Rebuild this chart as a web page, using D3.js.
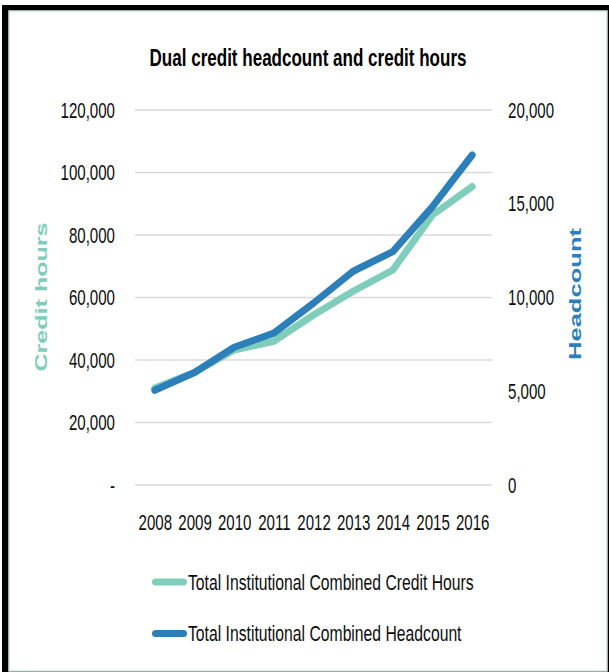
<!DOCTYPE html>
<html>
<head>
<meta charset="utf-8">
<script src="https://cdn.jsdelivr.net/npm/d3@7"></script>
<style>
  html, body { margin: 0; padding: 0; background: #fff; }
  svg { display: block; }
  text { font-family: "Liberation Sans", Arial, sans-serif; }
</style>
</head>
<body>
<svg id="chart" width="609" height="672"></svg>
<script>
// ---- data ----
const years = ["2008","2009","2010","2011","2012","2013","2014","2015","2016"];
const creditHours = [31000, 36000, 43200, 46000, 54400, 62000, 68800, 86400, 95500];
const headcount   = [5050, 6000, 7350, 8100, 9700, 11400, 12450, 14850, 17600];
const leftTicks  = [0, 20000, 40000, 60000, 80000, 100000, 120000];
const rightTicks = [0, 5000, 10000, 15000, 20000];
const seriesNames = ["Total Institutional Combined Credit Hours", "Total Institutional Combined Headcount"];
const titleText = "Dual credit headcount and credit hours";
const leftTitle = "Credit hours";
const rightTitle = "Headcount";

// ---- style ----
const GREEN = "#7fcdbb", BLUE = "#2c7fb8";
const SX = 0.685; // horizontal squeeze of the reference typography

const svg = d3.select("#chart");

// frame
svg.append("rect").attr("x", 2).attr("y", 5).attr("width", 607).attr("height", 667).attr("fill", "#000");
svg.append("rect").attr("x", 9).attr("y", 11).attr("width", 598).attr("height", 660)
  .attr("fill", "#fff").attr("stroke", "#cfe8e0").attr("stroke-width", 1.5);

const plot = {left: 135, right: 492, top: 110, bottom: 485};

const x = d3.scalePoint().domain(years).range([plot.left, plot.right]).padding(0.5);
const yL = d3.scaleLinear().domain([0, 120000]).range([plot.bottom, plot.top]);
const yR = d3.scaleLinear().domain([0, 20000]).range([plot.bottom, plot.top]);

// gridlines
svg.append("g").selectAll("line").data(leftTicks).join("line")
  .attr("x1", plot.left).attr("x2", plot.right)
  .attr("y1", d => yL(d)).attr("y2", d => yL(d))
  .attr("stroke", "#d9d9d9").attr("stroke-width", 1.5);

function squeeze(sel) {
  sel.selectAll("text").each(function() {
    const t = d3.select(this);
    const tx = +t.attr("x") || 0, ty = +t.attr("y") || 0;
    t.attr("x", 0).attr("y", 0)
     .attr("transform", `translate(${tx},${ty}) scale(${SX},1)`);
  });
}

function styleAxis(g) {
  g.select(".domain").remove();
  g.selectAll("line").remove();
  g.selectAll("text").attr("font-size", 22).attr("fill", "#0d0d0d")
    .attr("font-family", '"Liberation Sans", Arial, sans-serif');
  squeeze(g);
}

svg.append("g").attr("transform", `translate(${plot.left},0)`)
  .call(d3.axisLeft(yL).tickValues(leftTicks).tickSize(0).tickPadding(20)
    .tickFormat(d => d === 0 ? "-" : d3.format(",")(d)))
  .call(styleAxis);

svg.append("g").attr("transform", `translate(${plot.right},0)`)
  .call(d3.axisRight(yR).tickValues(rightTicks).tickSize(0).tickPadding(16)
    .tickFormat(d3.format(",")))
  .call(styleAxis);

svg.append("g").attr("transform", `translate(0,${plot.bottom})`)
  .call(d3.axisBottom(x).tickSize(0).tickPadding(29))
  .call(styleAxis);

// lines
const lineL = d3.line().x((d, i) => x(years[i])).y(d => yL(d));
const lineR = d3.line().x((d, i) => x(years[i])).y(d => yR(d));
svg.append("path").datum(creditHours).attr("d", lineL)
  .attr("fill", "none").attr("stroke", GREEN).attr("stroke-width", 7)
  .attr("stroke-linejoin", "round").attr("stroke-linecap", "round");
svg.append("path").datum(headcount).attr("d", lineR)
  .attr("fill", "none").attr("stroke", BLUE).attr("stroke-width", 7)
  .attr("stroke-linejoin", "round").attr("stroke-linecap", "round");

// title
svg.append("text").attr("transform", `translate(308,66) scale(0.71,1)`)
  .attr("text-anchor", "middle").attr("font-size", 24).attr("font-weight", "bold")
  .attr("fill", "#000").text(titleText);

// axis titles
svg.append("text").attr("transform", `translate(47,297) scale(0.75,1) rotate(-90)`)
  .attr("text-anchor", "middle").attr("font-size", 21).attr("font-weight", "bold")
  .attr("font-family", '"DejaVu Sans", Verdana, sans-serif')
  .attr("textLength", 149).attr("lengthAdjust", "spacingAndGlyphs")
  .attr("fill", GREEN).text(leftTitle);
svg.append("text").attr("transform", `translate(581,294) scale(0.75,1) rotate(-90)`)
  .attr("text-anchor", "middle").attr("font-size", 21).attr("font-weight", "bold")
  .attr("font-family", '"DejaVu Sans", Verdana, sans-serif')
  .attr("textLength", 132).attr("lengthAdjust", "spacingAndGlyphs")
  .attr("fill", BLUE).text(rightTitle);

// legend
const legendColors = [GREEN, BLUE];
const lg = svg.append("g").selectAll("g").data(seriesNames).join("g")
  .attr("transform", (d, i) => `translate(0,${582 + i * 51.5})`);
lg.append("line").attr("x1", 155.5).attr("x2", 183.5).attr("y1", 0).attr("y2", 0)
  .attr("stroke", (d, i) => legendColors[i]).attr("stroke-width", 7).attr("stroke-linecap", "round");
lg.append("text").attr("transform", `translate(188,7.5) scale(0.715,1)`)
  .attr("font-size", 22).attr("fill", "#0d0d0d").text(d => d);
</script>
</body>
</html>
